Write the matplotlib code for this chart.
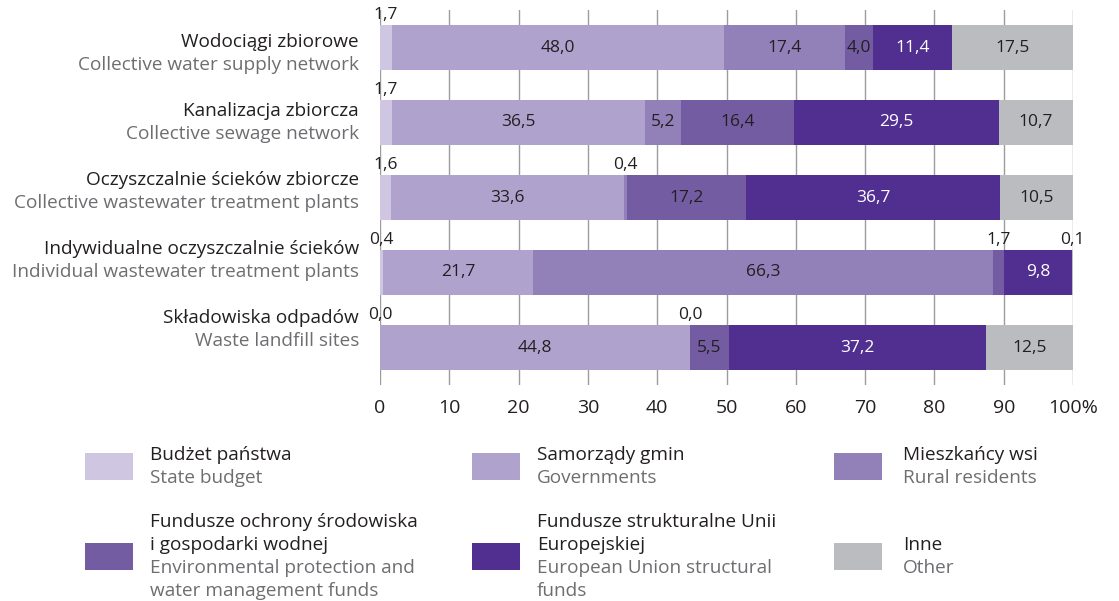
import numpy as np
import matplotlib.pyplot as plt
from matplotlib.patches import Rectangle

plt.rcParams['font.family'] = ['Open Sans', 'DejaVu Sans']

# data (percent shares of investment outlays)
cat_pl = ["Wodociągi zbiorowe", "Kanalizacja zbiorcza", "Oczyszczalnie ścieków zbiorcze",
          "Indywidualne oczyszczalnie ścieków", "Składowiska odpadów"]
cat_en = ["Collective water supply network", "Collective sewage network",
          "Collective wastewater treatment plants", "Individual wastewater treatment plants",
          "Waste landfill sites"]

state_budget = [1.7, 1.7, 1.6, 0.4, 0.0]
governments = [48.0, 36.5, 33.6, 21.7, 44.8]
rural_residents = [17.4, 5.2, 0.4, 66.3, 0.0]
env_funds = [4.0, 16.4, 17.2, 1.7, 5.5]
eu_funds = [11.4, 29.5, 36.7, 9.8, 37.2]
other = [17.5, 10.7, 10.5, 0.1, 12.5]

series = [state_budget, governments, rural_residents, env_funds, eu_funds, other]
colors = ['#cfc6e1', '#afa3cd', '#9280b8', '#745ca3', '#512f91', '#bbbcbf']
text_colors = ['#231f20', '#231f20', '#231f20', '#231f20', 'white', '#231f20']

leg_pl = ["Budżet państwa", "Samorządy gmin", "Mieszkańcy wsi",
          "Fundusze ochrony środowiska\ni gospodarki wodnej",
          "Fundusze strukturalne Unii\nEuropejskiej", "Inne"]
leg_en = ["State budget", "Governments", "Rural residents",
          "Environmental protection and\nwater management funds",
          "European Union structural\nfunds", "Other"]

ticks = list(range(0, 101, 10))
tick_labels = [str(t) for t in ticks[:-1]] + ["100%"]

W, H = 1119, 601
dark = '#231f20'
grey = '#6d6e71'
fs = 13.7

fig = plt.figure(figsize=(W / 100, H / 100), dpi=100)
ax = fig.add_axes([380 / W, (H - 385) / H, 693 / W, 375 / H])

y = np.arange(len(cat_pl))
left = np.zeros(len(cat_pl))
for vals, c, tc in zip(series, colors, text_colors):
    vals = np.array(vals)
    ax.barh(y, vals, left=left, height=0.61, color=c, zorder=2)
    for i, v in enumerate(vals):
        xc = left[i] + v / 2
        lab = f"{v:.1f}".replace('.', ',')
        if v >= 3:
            ax.text(xc, y[i], lab, ha='center', va='center', color=tc, fontsize=12.5, zorder=3)
        else:
            ax.annotate(lab, (xc, y[i] - 0.305), xytext=(0, 1), textcoords='offset points',
                        ha='center', va='bottom', color=dark, fontsize=12.5,
                        annotation_clip=False)
    left += vals

ax.set_xlim(0, 100)
ax.set_ylim(4.5, -0.5)
ax.set_yticks([])
ax.set_xticks(ticks)
ax.set_xticklabels(tick_labels, fontsize=14, color=dark)
ax.tick_params(axis='x', length=0, pad=10)
ax.grid(axis='x', color='#9d9d9d', lw=1, zorder=0)
ax.set_axisbelow(True)
for s in ax.spines.values():
    s.set_visible(False)

# category labels
for i in range(len(cat_pl)):
    yp = 42 + 69 * i
    fig.text(359 / W, 1 - yp / H, cat_pl[i], ha='right', va='center', color=dark, fontsize=fs)
    fig.text(359 / W, 1 - (yp + 23) / H, cat_en[i], ha='right', va='center', color=grey, fontsize=fs)

# legend
patch_x = [85, 472, 834]
text_x = [150, 537, 903]
row_y = [466.5, 556.5]
for k in range(6):
    r, col = divmod(k, 3)
    cy = row_y[r]
    fig.add_artist(Rectangle((patch_x[col] / W, 1 - (cy + 13.5) / H), 48 / W, 27 / H,
                             transform=fig.transFigure, color=colors[k], lw=0))
    lines = [(t, dark) for t in leg_pl[k].split('\n')] + [(t, grey) for t in leg_en[k].split('\n')]
    y0 = cy - (len(lines) - 1) / 2 * 23
    for j, (t, tc) in enumerate(lines):
        fig.text(text_x[col] / W, 1 - (y0 + 23 * j) / H, t, ha='left', va='center', color=tc, fontsize=fs)

fig.savefig('out.png', dpi=100)
